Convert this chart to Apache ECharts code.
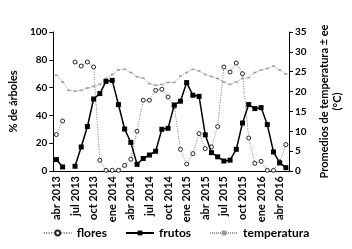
<!DOCTYPE html>
<html>
<head>
<meta charset="utf-8">
<script src="https://cdn.jsdelivr.net/npm/echarts@6/dist/echarts.min.js"></script>
<style>
  html, body { margin: 0; padding: 0; background: #fff; }
  #main { width: 352px; height: 249px; }
</style>
</head>
<body>
<div id="main"></div>
<script>
// meses abr 2013 .. may 2016
var meses = ['abr 2013', 'may 2013', 'jun 2013', 'jul 2013', 'ago 2013', 'sep 2013', 'oct 2013', 'nov 2013', 'dic 2013',
    'ene 2014', 'feb 2014', 'mar 2014', 'abr 2014', 'may 2014', 'jun 2014', 'jul 2014', 'ago 2014', 'sep 2014', 'oct 2014', 'nov 2014', 'dic 2014',
    'ene 2015', 'feb 2015', 'mar 2015', 'abr 2015', 'may 2015', 'jun 2015', 'jul 2015', 'ago 2015', 'sep 2015', 'oct 2015', 'nov 2015', 'dic 2015',
    'ene 2016', 'feb 2016', 'mar 2016', 'abr 2016', 'may 2016'];

var flores = [26.2, 36, null, 78.4, 75.5, 78.4, 74.8, 7.7, 0.5, 0.5, 0.5, 4, 8.5, 28.6, 50.9, 50.9, 58, 58.8, 53.2, 46.5, 15.6,
    5, 12.5, 26.9, 16.1, 17.3, 32, 74.8, 71.2, 77.7, 70, 23.7, 5.5, 7, 0.5, 0.5, 6.5, 19];

var frutos = [8.2, 2.9, null, 3.4, 17.3, 32, 51.8, 55.7, 64.5, 65.2, 47.8, 30.2, 20.6, 4.8, 9, 11.5, 14.2, 30, 30.7, 47.5, 50.2,
    63.6, 54.5, 53.7, 26, 13.2, 10.2, 7.2, 7.8, 15.6, 34.5, 47.8, 44.9, 45.6, 33.4, 13.7, 5.8, 2.4];

var temperatura = [24.1, 22.4, 20.3, 20.1, 20.3, 20.9, 21.3, 21.8, 23.3, 24.3, 25.5, 25.6, 24.8, 23.7, 23.4, 22, 21.6, 21.8, 22.3, 22.3, 23.9,
    24.8, 25.6, 25.2, 24.3, 23.8, 23.3, 22.4, 21.8, 22.4, 23.3, 23.5, 24.8, 25.4, 25.8, 26.4, 25.4, 24.4];

var fuente = 'Lato';
var myChart = echarts.init(document.getElementById('main'), null, {renderer: 'canvas'});

var option = {
    animation: false,
    textStyle: {fontFamily: fuente},
    grid: {left: 50, right: 63, top: 32, bottom: 78},
    legend: {
        bottom: 5,
        left: 'center',
        itemWidth: 28,
        itemHeight: 6,
        itemGap: 18,
        textStyle: {fontFamily: fuente, fontWeight: 'bold', fontSize: 12, color: '#000'},
        data: ['flores', 'frutos', 'temperatura']
    },
    xAxis: {
        type: 'category',
        data: meses,
        boundaryGap: true,
        axisLine: {lineStyle: {color: '#000', width: 1}},
        axisTick: {show: false},
        axisLabel: {
            interval: 2,
            rotate: 90,
            margin: 5,
            fontFamily: fuente,
            fontWeight: 'bold',
            fontSize: 11,
            color: '#000'
        }
    },
    yAxis: [
        {
            type: 'value',
            min: 0,
            max: 100,
            interval: 20,
            name: '% de árboles',
            nameLocation: 'middle',
            nameGap: 31,
            nameTextStyle: {fontFamily: fuente, fontWeight: 'bold', fontSize: 11, color: '#000'},
            axisLine: {show: true, lineStyle: {color: '#000'}},
            axisTick: {show: true, length: 4, lineStyle: {color: '#000'}},
            splitLine: {show: false},
            axisLabel: {fontFamily: fuente, fontWeight: 'bold', fontSize: 10, color: '#000', margin: 6}
        },
        {
            type: 'value',
            min: 0,
            max: 35,
            interval: 5,
            position: 'right',
            name: 'Promedios de temperatura ± ee\n(°C)',
            nameLocation: 'middle',
            nameGap: 28,
            nameTextStyle: {fontFamily: fuente, fontWeight: 'bold', fontSize: 11, color: '#000', lineHeight: 13, align: 'center'},
            axisLine: {show: true, lineStyle: {color: '#000'}},
            axisTick: {show: true, length: 4, lineStyle: {color: '#000'}},
            splitLine: {show: false},
            axisLabel: {fontFamily: fuente, fontWeight: 'bold', fontSize: 10, color: '#000', margin: 6}
        }
    ],
    series: [
        {
            name: 'flores',
            type: 'line',
            data: flores,
            yAxisIndex: 0,
            connectNulls: false,
            showAllSymbol: true,
            symbol: 'circle',
            symbolSize: 4,
            lineStyle: {color: '#777', width: 1, type: [1, 1.5]},
            itemStyle: {color: '#fff', borderColor: '#222', borderWidth: 1},
            z: 3
        },
        {
            name: 'frutos',
            type: 'line',
            data: frutos,
            yAxisIndex: 0,
            connectNulls: false,
            showAllSymbol: true,
            symbol: 'rect',
            symbolSize: 5,
            lineStyle: {color: '#000', width: 1.5},
            itemStyle: {color: '#000'},
            z: 4
        },
        {
            name: 'temperatura',
            type: 'line',
            data: temperatura,
            yAxisIndex: 1,
            showAllSymbol: true,
            symbol: 'rect',
            symbolSize: [3, 1.5],
            lineStyle: {color: '#999', width: 1, type: [1, 1]},
            itemStyle: {color: '#999'},
            z: 2
        }
    ]
};

myChart.setOption(option);
</script>
</body>
</html>
